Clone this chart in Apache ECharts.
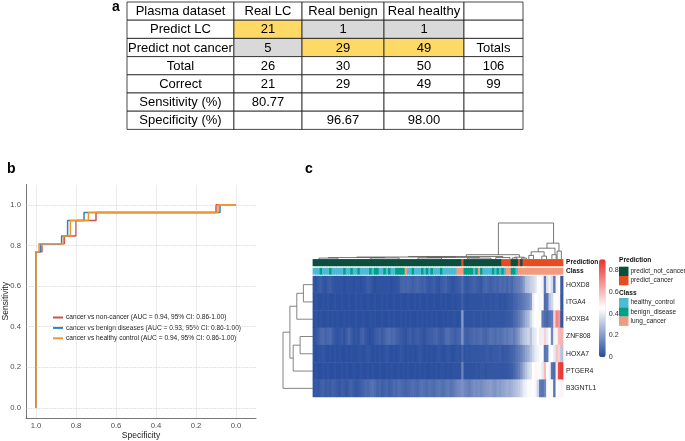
<!DOCTYPE html>
<html><head><meta charset="utf-8">
<script src="https://cdn.jsdelivr.net/npm/echarts@6/dist/echarts.min.js"></script>
<style>html,body{margin:0;padding:0;background:#fff}#c{width:685px;height:441px}</style>
</head><body><div id="c"></div><script>
const FONT = 'Liberation Sans, Arial, sans-serif';

// ---------- panel a: table ----------
const tableRows = [
  ['Plasma dataset','Real LC','Real benign','Real healthy',''],
  ['Predict LC','21','1','1',''],
  ['Predict not cancer','5','29','49','Totals'],
  ['Total','26','30','50','106'],
  ['Correct','21','29','49','99'],
  ['Sensitivity (%)','80.77','','',''],
  ['Specificity (%)','','96.67','98.00','']
];
// y = correctly classified (yellow), g = misclassified (grey)
const tableMarks = [
  ['','','','',''],
  ['','y','g','g',''],
  ['','g','y','y',''],
  ['','','','',''],
  ['','','','',''],
  ['','','','',''],
  ['','','','','']
];

// ---------- panel b: ROC ----------
const rocNames = [
  'cancer vs non-cancer (AUC = 0.94, 95% CI: 0.86-1.00)',
  'cancer vs benign diseases (AUC = 0.93, 95% CI: 0.86-1.00)',
  'cancer vs healthy control (AUC = 0.94, 95% CI: 0.86-1.00)'
];
const rocNonCancer = [[1,0],[1,0.769],[0.97,0.769],[0.97,0.808],[0.858,0.808],[0.858,0.846],[0.8,0.846],[0.8,0.923],[0.7,0.923],[0.7,0.962],[0.1,0.962],[0.1,1],[0,1]];
const rocBenign    = [[1,0],[1,0.769],[0.978,0.769],[0.978,0.808],[0.872,0.808],[0.872,0.846],[0.842,0.846],[0.842,0.923],[0.76,0.923],[0.76,0.962],[0.08,0.962],[0.08,1],[0,1]];
const rocHealthy   = [[1,0],[1,0.769],[0.985,0.769],[0.985,0.808],[0.863,0.808],[0.863,0.846],[0.828,0.846],[0.828,0.923],[0.738,0.923],[0.738,0.962],[0.09,0.962],[0.09,1],[0,1]];
const rocTicks = [0, 0.2, 0.4, 0.6, 0.8, 1.0];

// ---------- panel c: heatmap ----------
const genes = ['HOXD8','ITGA4','HOXB4','ZNF808','HOXA7','PTGER4','B3GNTL1'];
const hoxd8 = [
 .03,.02,.04,.05,.03,.02,.04,.05,.03,.02,
 .02,.02,.02,.01,.02,.02,.02,.01,.02,.02,
 .01,.02,.03,.05,.04,.02,.01,.02,.02,.02,
 .02,.02,.02,.01,.02,.02,.03,.06,.07,.06,
 .07,.06,.05,.06,.07,.06,.05,.06,.04,.03,
 .04,.05,.03,.02,.04,.05,.06,.04,.03,.02,
 .03,.04,.05,.08,.04,.03,.04,.05,.06,.05,
 .04,.03,.06,.07,.06,.05,.06,.07,.06,.08,
 .07,.08,.06,.09,.07,.1,.12,.13,.15,.2,
 .28,.3,.33,.35,.38,.44,.46,.42,.12,.38,
 .42,.36,.1,.48,.46,.04];
const itga4 = [
 .01,.02,.01,.01,.02,.01,.02,.01,.01,.02,
 .01,.01,.02,.01,.01,.02,.01,.01,.02,.01,
 .02,.01,.01,.02,.01,.01,.02,.01,.01,.02,
 .01,.02,.01,.01,.02,.01,.01,.02,.01,.01,
 .02,.01,.01,.02,.01,.02,.01,.01,.02,.01,
 .01,.02,.01,.01,.02,.01,.02,.01,.01,.02,
 .01,.02,.02,.05,.02,.01,.02,.02,.02,.02,
 .02,.02,.03,.02,.02,.03,.02,.03,.03,.02,
 .03,.02,.03,.04,.04,.06,.07,.09,.1,.12,
 .14,.16,.2,.4,.45,.44,.43,.46,.08,.1,
 .3,.35,.44,.45,.47,.03];
const hoxb4 = [
 .01,.02,.01,.02,.01,.01,.02,.01,.02,.01,
 .02,.01,.01,.02,.01,.02,.01,.01,.02,.01,
 .01,.02,.01,.01,.02,.01,.02,.01,.01,.02,
 .01,.01,.02,.01,.02,.01,.01,.02,.01,.02,
 .01,.02,.01,.01,.02,.01,.02,.01,.02,.01,
 .02,.01,.02,.01,.01,.02,.01,.02,.01,.02,
 .02,.01,.02,.2,.02,.02,.02,.02,.03,.02,
 .02,.03,.02,.03,.02,.03,.03,.03,.03,.03,
 .03,.03,.04,.04,.05,.07,.09,.12,.15,.2,
 .25,.28,.35,.42,.45,.46,.44,.12,.08,.07,
 .1,.12,.55,.72,.68,.03];
const znf808 = [
 .02,.03,.05,.07,.08,.06,.07,.08,.05,.03,
 .02,.03,.04,.02,.05,.07,.04,.02,.03,.02,
 .05,.06,.03,.02,.01,.02,.04,.05,.06,.04,
 .06,.08,.09,.07,.08,.06,.05,.04,.03,.02,
 .04,.05,.03,.04,.05,.04,.03,.02,.04,.05,
 .05,.06,.07,.05,.04,.05,.08,.09,.07,.06,
 .05,.06,.07,.18,.06,.05,.06,.07,.08,.07,
 .08,.09,.07,.06,.08,.1,.09,.08,.1,.09,
 .1,.12,.11,.13,.14,.12,.16,.2,.25,.3,
 .32,.35,.3,.38,.4,.45,.5,.42,.55,.4,
 .45,.15,.42,.48,.6,.62];
const hoxa7 = [
 .02,.01,.02,.02,.03,.02,.01,.02,.01,.02,
 .01,.02,.01,.01,.02,.01,.02,.01,.01,.02,
 .02,.01,.02,.03,.02,.01,.02,.01,.02,.01,
 .02,.03,.02,.01,.02,.01,.02,.03,.02,.01,
 .02,.01,.02,.01,.02,.03,.02,.01,.02,.01,
 .02,.01,.02,.03,.02,.01,.02,.03,.02,.01,
 .02,.03,.02,.06,.02,.03,.02,.03,.03,.03,
 .03,.03,.03,.04,.04,.03,.04,.04,.04,.05,
 .03,.04,.04,.05,.06,.07,.1,.12,.14,.18,
 .22,.25,.3,.35,.4,.42,.46,.44,.1,.12,
 .43,.45,.4,.58,.55,.3];
const ptger4 = [
 .01,.02,.01,.01,.02,.01,.02,.01,.01,.02,
 .01,.01,.02,.01,.02,.01,.01,.02,.01,.01,
 .02,.01,.01,.02,.01,.02,.01,.01,.02,.01,
 .01,.02,.01,.02,.01,.01,.02,.01,.02,.01,
 .02,.01,.01,.02,.01,.02,.01,.02,.01,.01,
 .02,.01,.02,.01,.02,.02,.01,.02,.01,.02,
 .02,.02,.02,.14,.02,.02,.02,.02,.02,.03,
 .02,.03,.03,.02,.03,.03,.03,.03,.03,.03,
 .03,.03,.03,.04,.05,.07,.1,.13,.18,.25,
 .3,.35,.38,.45,.47,.46,.44,.4,.6,.45,
 .42,.1,.08,.5,.85,.88];
const b3gntl1 = [
 .03,.04,.03,.05,.06,.04,.05,.04,.06,.05,
 .04,.03,.05,.04,.03,.05,.06,.04,.03,.04,
 .05,.06,.08,.07,.09,.1,.08,.06,.07,.05,
 .06,.07,.05,.06,.08,.07,.09,.08,.07,.06,
 .07,.08,.09,.08,.07,.09,.1,.09,.08,.1,
 .09,.08,.1,.11,.1,.09,.11,.12,.1,.11,
 .13,.15,.16,.18,.15,.14,.13,.15,.17,.16,
 .17,.16,.18,.19,.2,.21,.19,.18,.21,.2,
 .22,.23,.25,.24,.26,.28,.3,.32,.35,.4,
 .42,.44,.46,.45,.43,.35,.12,.1,.15,.44,
 .46,.47,.1,.45,.44,.48];
const geneValues = [hoxd8, itga4, hoxb4, znf808, hoxa7, ptger4, b3gntl1];

// 0 = predict_not_cancer, 1 = predict_cancer
const prediction = [
 0,0,0,0,0,0,0,0,0,0, 0,0,0,0,0,0,0,0,0,0,
 0,0,0,0,0,0,0,0,0,0, 0,0,0,0,0,0,0,0,0,0,
 0,0,0,0,0,0,0,0,0,0, 0,0,0,0,0,0,0,0,0,0,
 0,0,0,1,0,0,0,0,0,0, 0,0,0,0,0,0,0,0,0,0,
 1,1,1,1,0,0,0,1,0,1, 1,1,1,1,1,1,1,1,1,1,
 1,1,1,1,1,1];
// 0 = healthy_control, 1 = benign_disease, 2 = lung_cancer
const sampleClass = [
 0,0,0,1,0,0,0,1,0,0, 0,0,0,1,0,0,1,0,0,1,
 0,0,0,0,1,0,1,1,0,0, 1,0,1,0,0,1,1,1,1,2,
 0,0,1,0,0,0,1,0,1,0, 1,0,0,0,1,0,0,0,0,0,
 0,2,2,2,1,1,1,1,0,1, 2,1,0,0,0,0,1,0,1,0,
 1,0,2,2,1,1,0,2,2,2, 2,2,2,2,2,2,2,2,2,2,
 2,2,2,2,2,2];
const predNames = ['predict_not_cancer','predict_cancer'];
const classNames = ['healthy_control','benign_disease','lung_cancer'];
const colorbarTicks = [0, 0.2, 0.4, 0.6, 0.8];

// column dendrogram merges: [leftX, rightX, height, leftChildHeight, rightChildHeight] (x in sample index units)
const colDendro = [
 [78.1,101.5,1.0,0.12,0.44],
 [64.5,87,0.12,0.07,0.05],
 [40,80,0.07,0.055,0.04],
 [18,60,0.055,0.04,0.045],
 [6,30,0.04,0.025,0.03],
 [2,10,0.025,0,0],
 [24,36,0.03,0,0],
 [48,70,0.045,0.03,0.025],
 [44,54,0.03,0,0],
 [65,75,0.025,0,0],
 [77,83,0.04,0,0],
 [85,89,0.05,0.03,0.025],
 [84,86,0.03,0,0],
 [88,90,0.025,0,0],
 [98.7,103.8,0.44,0.3,0.22],
 [95,102.1,0.3,0.2,0.12],
 [92,97.5,0.2,0.1,0.08],
 [91,93,0.1,0,0],
 [96.5,98.5,0.08,0,0],
 [100.8,102.6,0.12,0,0],
 [103,104.8,0.22,0,0]
];
// row dendrogram merges: [topRow, bottomRow, height, topChildHeight, bottomChildHeight]
const rowDendro = [
 [0,1,0.32,0,0],
 [0.5,2,0.54,0.32,0],
 [3,4,0.43,0,0],
 [3.5,5,0.66,0.43,0],
 [1.25,4.25,0.77,0.54,0.66],
 [2.75,6,1.0,0.77,0]
];

// ---------- layout constants ----------
const tableColEdges = [0, 0.270, 0.442, 0.649, 0.851, 1];
const rocColors = ['#cd534c', '#2b83c6', '#f0962f'];
const predColors = ['#0b4f3f', '#e84c1e'];
const classColors = ['#4dbbd5', '#00a087', '#f39b7f'];
const HM = {left: 313, width: 250};

const sampleIds = prediction.map((_, i) => 'S' + (i + 1));
const heatData = [];
geneValues.forEach((arr, r) => arr.forEach((v, c) => heatData.push([c, r, v])));
const tableData = [];
tableRows.forEach((row, r) => row.forEach((_, c) => tableData.push([c, r])));

const tickFmt = (step) => (v) => {
  const k = Math.round(v / step);
  if (Math.abs(v / step - k) > 1e-6) return '';
  const val = Math.round(v * 100) / 100;
  if (!rocTicks.some(t => Math.abs(t - val) < 1e-6)) return '';
  return val.toFixed(1);
};

// cell renderer for heatmap-like tiles (slight overlap to avoid seams)
function cellRender(params, api) {
  const p = api.coord([api.value(0), api.value(1)]);
  const s = api.size([1, 1]);
  return {type: 'rect',
    shape: {x: p[0] - s[0] / 2 - 0.4, y: p[1] - s[1] / 2 - 0.2, width: s[0] + 0.8, height: s[1] + 0.4},
    style: {fill: api.visual('color')}};
}

const chart = echarts.init(document.getElementById('c'), null, {renderer: 'canvas'});
const gridBase = {containLabel: false, outerBoundsMode: 'none'};
const hidden = {show: false};

const option = {
  animation: false,
  textStyle: {fontFamily: FONT},
  title: [
    {text: 'a', left: 112, top: 0, padding: 0, textStyle: {fontSize: 14, fontWeight: 'bold', color: '#000', fontFamily: FONT}},
    {text: 'b', left: 7, top: 162, padding: 0, textStyle: {fontSize: 14, fontWeight: 'bold', color: '#000', fontFamily: FONT}},
    {text: 'c', left: 305, top: 162, padding: 0, textStyle: {fontSize: 14, fontWeight: 'bold', color: '#000', fontFamily: FONT}},
    {text: 'Prediction', left: 619, top: 257, padding: 0, textStyle: {fontSize: 6.6, fontWeight: 'bold', color: '#111', fontFamily: FONT}},
    {text: 'Class', left: 619, top: 290, padding: 0, textStyle: {fontSize: 6.6, fontWeight: 'bold', color: '#111', fontFamily: FONT}}
  ],
  grid: [
    Object.assign({left: 127, top: 2, width: 396, height: 127.4}, gridBase),   // 0 table
    Object.assign({left: 26, top: 184.5, width: 230, height: 233.5}, gridBase), // 1 roc
    Object.assign({left: HM.left, top: 276, width: HM.width, height: 121}, gridBase), // 2 heat
    Object.assign({left: HM.left, top: 259.3, width: HM.width, height: 6.7}, gridBase), // 3 pred
    Object.assign({left: HM.left, top: 268, width: HM.width, height: 6.5}, gridBase), // 4 class
    Object.assign({left: HM.left, top: 223, width: HM.width, height: 36}, gridBase), // 5 col dendro
    Object.assign({left: 283, top: 276, width: 30, height: 121}, gridBase), // 6 row dendro
    Object.assign({left: 599, top: 259.3, width: 6.7, height: 98}, gridBase) // 7 colorbar axis
  ],
  xAxis: [
    {gridIndex: 0, type: 'value', min: 0, max: 1, show: false},
    {gridIndex: 1, type: 'value', inverse: true, min: -0.1, max: 1.05, interval: 0.1,
     name: 'Specificity', nameLocation: 'middle', nameGap: 13, nameMoveOverlap: false,
     nameTextStyle: {fontSize: 8.5, color: '#222', fontFamily: FONT},
     axisLine: {show: true, onZero: false, lineStyle: {color: '#666', width: 0.9}},
     axisTick: {show: false}, splitLine: {show: false},
     axisLabel: {fontSize: 7.7, color: '#4d4d4d', margin: 4, formatter: tickFmt(0.1), fontFamily: FONT}},
    {gridIndex: 2, type: 'category', data: sampleIds, show: false},
    {gridIndex: 3, type: 'category', data: sampleIds, show: false},
    {gridIndex: 4, type: 'category', data: sampleIds, show: false},
    {gridIndex: 5, type: 'value', min: -0.5, max: sampleIds.length - 0.5, show: false},
    {gridIndex: 6, type: 'value', min: 0, max: 1, inverse: true, show: false},
    {gridIndex: 7, type: 'value', show: false}
  ],
  yAxis: [
    {gridIndex: 0, type: 'category', inverse: true, data: tableRows.map(r => r[0]), show: false},
    {gridIndex: 1, type: 'value', min: -0.05, max: 1.1, interval: 0.05,
     name: 'Sensitivity', nameLocation: 'middle', nameGap: 16, nameMoveOverlap: false,
     nameTextStyle: {fontSize: 8.5, color: '#222', fontFamily: FONT},
     axisLine: {show: true, onZero: false, lineStyle: {color: '#666', width: 0.9}},
     axisTick: {show: false}, splitLine: {show: false},
     axisLabel: {fontSize: 7.7, color: '#4d4d4d', margin: 5, formatter: tickFmt(0.05), fontFamily: FONT}},
    {gridIndex: 2, type: 'category', inverse: true, data: genes, position: 'right',
     axisLine: hidden, axisTick: hidden, splitLine: hidden,
     axisLabel: {fontSize: 6.8, color: '#222', margin: 3, fontFamily: FONT}},
    {gridIndex: 3, type: 'category', data: ['Prediction'], position: 'right',
     axisLine: hidden, axisTick: hidden,
     axisLabel: {fontSize: 6.6, fontWeight: 'bold', color: '#111', margin: 3, fontFamily: FONT}},
    {gridIndex: 4, type: 'category', data: ['Class'], position: 'right',
     axisLine: hidden, axisTick: hidden,
     axisLabel: {fontSize: 6.6, fontWeight: 'bold', color: '#111', margin: 3, fontFamily: FONT}},
    {gridIndex: 5, type: 'value', min: 0, max: 1, show: false},
    {gridIndex: 6, type: 'value', min: -0.5, max: genes.length - 0.5, inverse: true, show: false},
    {gridIndex: 7, type: 'value', min: 0, max: 0.9, interval: 0.2, position: 'right',
     axisLine: hidden, axisTick: hidden, splitLine: hidden,
     axisLabel: {fontSize: 7.2, color: '#333', margin: 3, fontFamily: FONT,
       formatter: v => colorbarTicks.some(t => Math.abs(t - v) < 1e-6) ? String(Math.round(v * 10) / 10) : ''}}
  ],
  visualMap: [
    {type: 'continuous', seriesIndex: 5, min: 0, max: 0.9, dimension: 2,
     orient: 'vertical', left: 599, top: 259.3, itemWidth: 6.7, itemHeight: 98,
     calculable: false, padding: 0, text: null, hoverLink: false,
     inRange: {color: ['#264b9d', '#ffffff', '#e8312f']}},
    {type: 'piecewise', show: false, seriesIndex: [6, 7], dimension: 2,
     pieces: [
       {value: 0, color: predColors[0]}, {value: 1, color: predColors[1]},
       {value: 2, color: classColors[0]}, {value: 3, color: classColors[1]}, {value: 4, color: classColors[2]}
     ]}
  ],
  legend: [
    {data: rocNames, orient: 'vertical', left: 53, top: 314, padding: 0, icon: 'rect',
     itemWidth: 10, itemHeight: 2, itemGap: 3.4, selectedMode: false,
     textStyle: {fontSize: 6.6, color: '#222', fontFamily: FONT, padding: [0, 0, 0, -2]}},
    {data: predNames, orient: 'vertical', left: 619, top: 266.7, padding: 0, icon: 'rect',
     itemWidth: 9.5, itemHeight: 9.3, itemGap: 0, selectedMode: false,
     textStyle: {fontSize: 6.5, color: '#222', fontFamily: FONT, padding: [0, 0, 0, -3]}},
    {data: classNames, orient: 'vertical', left: 619, top: 298, padding: 0, icon: 'rect',
     itemWidth: 9.5, itemHeight: 9.3, itemGap: 0, selectedMode: false,
     textStyle: {fontSize: 6.5, color: '#222', fontFamily: FONT, padding: [0, 0, 0, -3]}}
  ],
  series: [
    // 0 table
    {type: 'custom', xAxisIndex: 0, yAxisIndex: 0, data: tableData, clip: false, silent: true,
     renderItem(params, api) {
       const c = api.value(0), r = api.value(1);
       const yc = api.coord([0, r])[1];
       const h = api.size([0, 1])[1];
       const x0 = api.coord([tableColEdges[c], r])[0];
       const x1 = api.coord([tableColEdges[c + 1], r])[0];
       const m = tableMarks[r][c];
       const fill = m === 'y' ? '#ffd966' : (m === 'g' ? '#d9d9d9' : '#ffffff');
       return {type: 'group', children: [
         {type: 'rect', shape: {x: x0, y: yc - h / 2, width: x1 - x0, height: h},
          style: {fill: fill, stroke: '#1a1a1a', lineWidth: 0.8}},
         {type: 'text', style: {text: tableRows[r][c], x: (x0 + x1) / 2, y: yc + 0.5,
          align: 'center', verticalAlign: 'middle', fontSize: 13, fontFamily: FONT, fill: '#000'}}
       ]};
     }},
    // 1 roc gridlines
    {type: 'line', xAxisIndex: 1, yAxisIndex: 1, data: [[0.5, 0.5]], symbol: 'none', z: 1,
     lineStyle: {width: 0}, silent: true,
     markLine: {silent: true, symbol: ['none', 'none'], label: {show: false},
       lineStyle: {type: 'dotted', color: '#cfcfcf', width: 0.8},
       data: rocTicks.map(t => ({xAxis: t})).concat(rocTicks.map(t => ({yAxis: t})))}},
    // 2-4 roc curves
    {type: 'line', name: rocNames[0], xAxisIndex: 1, yAxisIndex: 1, data: rocNonCancer, showSymbol: false, z: 3,
     itemStyle: {color: rocColors[0]}, lineStyle: {color: rocColors[0], width: 1.5}},
    {type: 'line', name: rocNames[1], xAxisIndex: 1, yAxisIndex: 1, data: rocBenign, showSymbol: false, z: 4,
     itemStyle: {color: rocColors[1]}, lineStyle: {color: rocColors[1], width: 1.5}},
    {type: 'line', name: rocNames[2], xAxisIndex: 1, yAxisIndex: 1, data: rocHealthy, showSymbol: false, z: 5,
     itemStyle: {color: rocColors[2]}, lineStyle: {color: rocColors[2], width: 1.5}},
    // 5 heatmap
    {type: 'custom', xAxisIndex: 2, yAxisIndex: 2, data: heatData, renderItem: cellRender, silent: true, clip: false},
    // 6 prediction
    {type: 'custom', xAxisIndex: 3, yAxisIndex: 3, data: prediction.map((v, c) => [c, 0, v]), renderItem: cellRender, silent: true, clip: false},
    // 7 class
    {type: 'custom', xAxisIndex: 4, yAxisIndex: 4, data: sampleClass.map((v, c) => [c, 0, v + 2]), renderItem: cellRender, silent: true, clip: false},
    // 8 column dendrogram
    {type: 'custom', xAxisIndex: 5, yAxisIndex: 5, data: colDendro, clip: false, silent: true,
     renderItem(params, api) {
       const xl = api.value(0), xr = api.value(1), h = api.value(2), hl = api.value(3), hr = api.value(4);
       return {type: 'polyline', shape: {points: [api.coord([xl, hl]), api.coord([xl, h]), api.coord([xr, h]), api.coord([xr, hr])]},
         style: {stroke: '#555', lineWidth: 0.8, fill: null}};
     }},
    // 9 row dendrogram
    {type: 'custom', xAxisIndex: 6, yAxisIndex: 6, data: rowDendro, clip: false, silent: true,
     renderItem(params, api) {
       const ra = api.value(0), rb = api.value(1), h = api.value(2), ha = api.value(3), hb = api.value(4);
       return {type: 'polyline', shape: {points: [api.coord([ha, ra]), api.coord([h, ra]), api.coord([h, rb]), api.coord([hb, rb])]},
         style: {stroke: '#666', lineWidth: 0.8, fill: null}};
     }},
    // 10-14 legend entries
    ...predNames.map((n, i) => ({type: 'scatter', name: n, xAxisIndex: 2, yAxisIndex: 2, data: [], itemStyle: {color: predColors[i], opacity: 1}})),
    ...classNames.map((n, i) => ({type: 'scatter', name: n, xAxisIndex: 2, yAxisIndex: 2, data: [], itemStyle: {color: classColors[i], opacity: 1}}))
  ]
};
chart.setOption(option);
</script></body></html>
